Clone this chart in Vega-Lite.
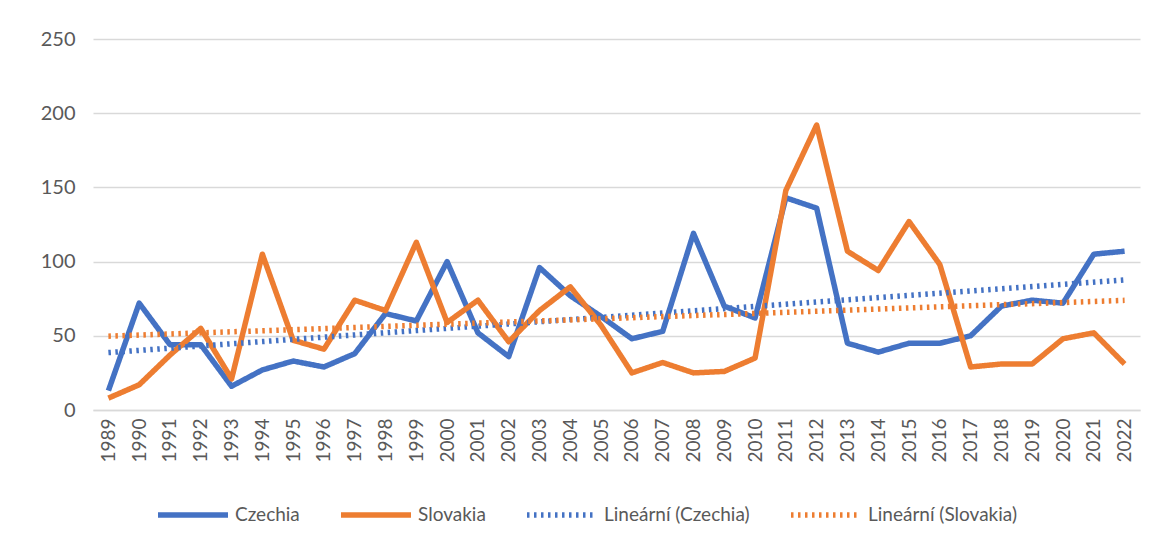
{
  "$schema": "https://vega.github.io/schema/vega-lite/v6.json",
  "width": 1047,
  "height": 371,
  "autosize": "none",
  "padding": {"left": 93, "top": 39, "right": 13, "bottom": 139},
  "background": "white",
  "config": {"view": {"stroke": null}, "font": "Lato"},
  "data": {
    "values": [
      {"year": 1989, "series": "Czechia", "trend": "Lineární (Czechia)", "value": 13},
      {"year": 1990, "series": "Czechia", "trend": "Lineární (Czechia)", "value": 72},
      {"year": 1991, "series": "Czechia", "trend": "Lineární (Czechia)", "value": 44},
      {"year": 1992, "series": "Czechia", "trend": "Lineární (Czechia)", "value": 44},
      {"year": 1993, "series": "Czechia", "trend": "Lineární (Czechia)", "value": 16},
      {"year": 1994, "series": "Czechia", "trend": "Lineární (Czechia)", "value": 27},
      {"year": 1995, "series": "Czechia", "trend": "Lineární (Czechia)", "value": 33},
      {"year": 1996, "series": "Czechia", "trend": "Lineární (Czechia)", "value": 29},
      {"year": 1997, "series": "Czechia", "trend": "Lineární (Czechia)", "value": 38},
      {"year": 1998, "series": "Czechia", "trend": "Lineární (Czechia)", "value": 65},
      {"year": 1999, "series": "Czechia", "trend": "Lineární (Czechia)", "value": 60},
      {"year": 2000, "series": "Czechia", "trend": "Lineární (Czechia)", "value": 100},
      {"year": 2001, "series": "Czechia", "trend": "Lineární (Czechia)", "value": 52},
      {"year": 2002, "series": "Czechia", "trend": "Lineární (Czechia)", "value": 36},
      {"year": 2003, "series": "Czechia", "trend": "Lineární (Czechia)", "value": 96},
      {"year": 2004, "series": "Czechia", "trend": "Lineární (Czechia)", "value": 77},
      {"year": 2005, "series": "Czechia", "trend": "Lineární (Czechia)", "value": 63},
      {"year": 2006, "series": "Czechia", "trend": "Lineární (Czechia)", "value": 48},
      {"year": 2007, "series": "Czechia", "trend": "Lineární (Czechia)", "value": 53},
      {"year": 2008, "series": "Czechia", "trend": "Lineární (Czechia)", "value": 119},
      {"year": 2009, "series": "Czechia", "trend": "Lineární (Czechia)", "value": 70},
      {"year": 2010, "series": "Czechia", "trend": "Lineární (Czechia)", "value": 62},
      {"year": 2011, "series": "Czechia", "trend": "Lineární (Czechia)", "value": 143},
      {"year": 2012, "series": "Czechia", "trend": "Lineární (Czechia)", "value": 136},
      {"year": 2013, "series": "Czechia", "trend": "Lineární (Czechia)", "value": 45},
      {"year": 2014, "series": "Czechia", "trend": "Lineární (Czechia)", "value": 39},
      {"year": 2015, "series": "Czechia", "trend": "Lineární (Czechia)", "value": 45},
      {"year": 2016, "series": "Czechia", "trend": "Lineární (Czechia)", "value": 45},
      {"year": 2017, "series": "Czechia", "trend": "Lineární (Czechia)", "value": 50},
      {"year": 2018, "series": "Czechia", "trend": "Lineární (Czechia)", "value": 70},
      {"year": 2019, "series": "Czechia", "trend": "Lineární (Czechia)", "value": 74},
      {"year": 2020, "series": "Czechia", "trend": "Lineární (Czechia)", "value": 72},
      {"year": 2021, "series": "Czechia", "trend": "Lineární (Czechia)", "value": 105},
      {"year": 2022, "series": "Czechia", "trend": "Lineární (Czechia)", "value": 107},
      {"year": 1989, "series": "Slovakia", "trend": "Lineární (Slovakia)", "value": 8},
      {"year": 1990, "series": "Slovakia", "trend": "Lineární (Slovakia)", "value": 17},
      {"year": 1991, "series": "Slovakia", "trend": "Lineární (Slovakia)", "value": 37},
      {"year": 1992, "series": "Slovakia", "trend": "Lineární (Slovakia)", "value": 55},
      {"year": 1993, "series": "Slovakia", "trend": "Lineární (Slovakia)", "value": 21},
      {"year": 1994, "series": "Slovakia", "trend": "Lineární (Slovakia)", "value": 105},
      {"year": 1995, "series": "Slovakia", "trend": "Lineární (Slovakia)", "value": 47},
      {"year": 1996, "series": "Slovakia", "trend": "Lineární (Slovakia)", "value": 41},
      {"year": 1997, "series": "Slovakia", "trend": "Lineární (Slovakia)", "value": 74},
      {"year": 1998, "series": "Slovakia", "trend": "Lineární (Slovakia)", "value": 67},
      {"year": 1999, "series": "Slovakia", "trend": "Lineární (Slovakia)", "value": 113},
      {"year": 2000, "series": "Slovakia", "trend": "Lineární (Slovakia)", "value": 59},
      {"year": 2001, "series": "Slovakia", "trend": "Lineární (Slovakia)", "value": 74},
      {"year": 2002, "series": "Slovakia", "trend": "Lineární (Slovakia)", "value": 46},
      {"year": 2003, "series": "Slovakia", "trend": "Lineární (Slovakia)", "value": 67},
      {"year": 2004, "series": "Slovakia", "trend": "Lineární (Slovakia)", "value": 83},
      {"year": 2005, "series": "Slovakia", "trend": "Lineární (Slovakia)", "value": 57},
      {"year": 2006, "series": "Slovakia", "trend": "Lineární (Slovakia)", "value": 25},
      {"year": 2007, "series": "Slovakia", "trend": "Lineární (Slovakia)", "value": 32},
      {"year": 2008, "series": "Slovakia", "trend": "Lineární (Slovakia)", "value": 25},
      {"year": 2009, "series": "Slovakia", "trend": "Lineární (Slovakia)", "value": 26},
      {"year": 2010, "series": "Slovakia", "trend": "Lineární (Slovakia)", "value": 35},
      {"year": 2011, "series": "Slovakia", "trend": "Lineární (Slovakia)", "value": 148},
      {"year": 2012, "series": "Slovakia", "trend": "Lineární (Slovakia)", "value": 192},
      {"year": 2013, "series": "Slovakia", "trend": "Lineární (Slovakia)", "value": 107},
      {"year": 2014, "series": "Slovakia", "trend": "Lineární (Slovakia)", "value": 94},
      {"year": 2015, "series": "Slovakia", "trend": "Lineární (Slovakia)", "value": 127},
      {"year": 2016, "series": "Slovakia", "trend": "Lineární (Slovakia)", "value": 98},
      {"year": 2017, "series": "Slovakia", "trend": "Lineární (Slovakia)", "value": 29},
      {"year": 2018, "series": "Slovakia", "trend": "Lineární (Slovakia)", "value": 31},
      {"year": 2019, "series": "Slovakia", "trend": "Lineární (Slovakia)", "value": 31},
      {"year": 2020, "series": "Slovakia", "trend": "Lineární (Slovakia)", "value": 48},
      {"year": 2021, "series": "Slovakia", "trend": "Lineární (Slovakia)", "value": 52},
      {"year": 2022, "series": "Slovakia", "trend": "Lineární (Slovakia)", "value": 31}
    ]
  },
  "encoding": {
    "x": {
      "field": "year",
      "type": "quantitative",
      "scale": {"domain": [1988.5, 2022.5], "nice": false, "zero": false},
      "axis": {
        "title": null,
        "grid": false,
        "domain": true,
        "domainColor": "#d9d9d9",
        "domainWidth": 1.5,
        "ticks": false,
        "labelAngle": -90,
        "labelAlign": "right",
        "labelBaseline": "middle",
        "labelPadding": 8,
        "labelFont": "Lato",
        "labelFontSize": 19,
        "labelColor": "#595959",
        "labelOverlap": false,
        "format": "d",
        "values": [1989, 1990, 1991, 1992, 1993, 1994, 1995, 1996, 1997, 1998, 1999, 2000, 2001, 2002, 2003, 2004, 2005, 2006, 2007, 2008, 2009, 2010, 2011, 2012, 2013, 2014, 2015, 2016, 2017, 2018, 2019, 2020, 2021, 2022]
      }
    },
    "y": {
      "field": "value",
      "type": "quantitative",
      "scale": {"domain": [0, 250], "nice": false},
      "axis": {
        "title": null,
        "grid": true,
        "gridColor": "#d9d9d9",
        "gridWidth": 1.5,
        "domain": false,
        "ticks": false,
        "labelPadding": 18,
        "labelFont": "Lato",
        "labelFontSize": 20,
        "labelColor": "#595959",
        "values": [0, 50, 100, 150, 200, 250]
      }
    },
    "color": {
      "field": "series",
      "type": "nominal",
      "scale": {
        "domain": ["Czechia", "Slovakia", "Lineární (Czechia)", "Lineární (Slovakia)"],
        "range": ["#4472C4", "#ED7D31", "#4472C4", "#ED7D31"]
      },
      "legend": {
        "title": null,
        "orient": "none",
        "legendX": 62,
        "legendY": 438,
        "direction": "horizontal",
        "columns": 4,
        "columnPadding": 30,
        "labelOffset": 4,
        "labelFont": "Lato",
        "labelFontSize": 19,
        "labelColor": "#595959",
        "symbolType": "stroke",
        "symbolSize": 4900
      }
    },
    "strokeDash": {
      "field": "series",
      "type": "nominal",
      "scale": {
        "domain": ["Czechia", "Slovakia", "Lineární (Czechia)", "Lineární (Slovakia)"],
        "range": [[1, 0], [1, 0], [2.5, 4.5], [2.5, 4.5]]
      },
      "legend": {
        "title": null,
        "orient": "none",
        "legendX": 62,
        "legendY": 438,
        "direction": "horizontal",
        "columns": 4,
        "columnPadding": 30,
        "labelOffset": 4,
        "labelFont": "Lato",
        "labelFontSize": 19,
        "labelColor": "#595959",
        "symbolType": "stroke",
        "symbolSize": 4900
      }
    },
    "strokeWidth": {
      "field": "series",
      "type": "ordinal",
      "scale": {
        "domain": ["Czechia", "Slovakia", "Lineární (Czechia)", "Lineární (Slovakia)"],
        "range": [5.5, 5.5, 2.5, 2.5]
      },
      "legend": {
        "title": null,
        "orient": "none",
        "legendX": 62,
        "legendY": 438,
        "direction": "horizontal",
        "columns": 4,
        "columnPadding": 30,
        "labelOffset": 4,
        "labelFont": "Lato",
        "labelFontSize": 19,
        "labelColor": "#595959",
        "symbolType": "stroke",
        "symbolSize": 4900
      }
    }
  },
  "layer": [
    {
      "mark": {"type": "line", "strokeJoin": "round"}
    },
    {
      "transform": [
        {"regression": "value", "on": "year", "groupby": ["trend"]},
        {"fold": ["trend"], "as": ["k", "series"]}
      ],
      "mark": {"type": "line"}
    }
  ]
}
